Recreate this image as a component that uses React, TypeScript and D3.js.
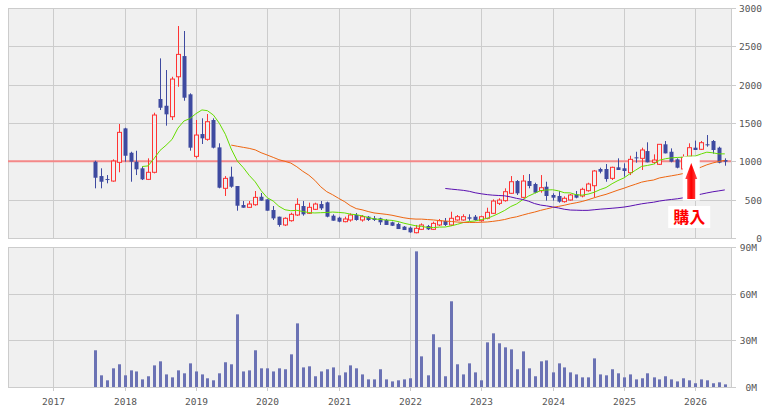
import React from "react";
import * as d3 from "d3";

const startMonth = "2017-08";
const opens = [995,808,769,743,987,1430,1112,995,909,765,857,1813,1725,1582,2103,2373,1874,1065,1356,1287,1539,1182,648,800,678,430,400,434,538,504,365,278,170,226,300,417,322,374,443,465,291,265,213,235,300,235,278,257,257,235,205,183,148,135,69,113,156,113,170,222,170,235,235,270,278,226,257,322,452,487,583,743,530,743,704,617,669,561,548,474,496,570,548,617,682,900,900,778,922,909,852,1052,1039,1134,987,961,1222,1125,1026,900,1061,1178,1157,1222,1265,1178,1017];
const highs = [1008,909,821,1026,1487,1438,1125,1138,930,1039,1634,2343,2191,2103,2765,2700,1887,1539,1561,1617,1561,1235,808,930,678,482,482,613,587,504,417,278,270,330,518,482,461,461,482,474,309,278,278,322,326,300,287,287,265,248,213,200,156,148,170,191,170,213,248,261,343,300,309,309,300,291,395,504,518,648,808,756,821,834,721,821,734,583,613,543,574,613,656,721,887,917,965,930,1039,974,1073,1125,1178,1248,1091,1222,1265,1169,1039,1091,1235,1270,1265,1343,1278,1191,1039];
const lows = [648,648,713,734,857,995,734,821,756,756,843,1669,1465,1539,1973,1790,1139,1039,1226,1269,1169,648,548,656,356,395,395,421,487,356,235,147,156,213,287,291,313,365,365,270,226,205,205,213,226,213,222,222,170,170,156,117,104,69,61,104,104,104,156,156,156,226,226,226,226,213,244,313,430,474,574,561,518,648,583,591,487,487,461,461,487,518,530,604,530,843,734,756,887,800,821,982,887,987,961,952,1104,987,909,880,1047,1148,1148,1191,1100,974,943];
const closes = [786,734,760,1004,1378,1073,995,896,765,857,1604,1699,1613,2073,2395,1830,1178,1343,1300,1517,1178,656,778,669,421,395,443,530,487,356,256,170,257,309,439,309,400,443,387,278,226,213,248,300,235,278,235,235,205,170,160,117,104,74,126,170,113,191,226,170,257,278,278,252,235,278,335,482,495,604,734,583,743,678,591,656,548,526,474,518,561,526,635,704,874,865,769,922,887,874,1026,1039,1148,987,1017,1222,1104,995,917,1052,1178,1148,1243,1213,1148,982,995];
const volumes = [23.6,7.5,4.3,12,14.6,7.5,10.7,10,4.9,6.9,13.9,16.5,8.1,6.2,10.7,8.8,15.2,10,8.1,5.6,4.3,8.8,15.9,14.6,46.7,10,10.7,23.6,12,12,10,12,11.4,21,40.9,12.6,13.3,6.9,10,11.4,12.6,7.5,9.4,13.9,12,8.1,4.9,4.9,11.4,4.9,3.6,4.3,4.9,5.6,87.2,19.7,7.5,33.9,25.5,6.9,55.1,14.6,8.1,15.2,9.4,4.3,28.7,34.5,28.1,25.5,24.2,11.4,22.9,12,6.9,16.5,17.1,9.4,15.2,12.6,9.4,8.1,6.2,6.2,18.4,8.1,7.5,11.4,8.8,6.2,8.1,4.9,5.6,8.8,6.2,4.9,6.9,4.9,3.6,5.6,4.3,2.4,4.9,4.3,2.4,3,1.7];
const maPeriods = [9, 24, 60];
const maColors = ["#66dd00", "#ee6611", "#5a10b0"];
const priceTicks = [0, 500, 1000, 1500, 2000, 2500, 3000];
const volTicks = [0, 30, 60, 90];
const volTickLabels = ["0M", "30M", "60M", "90M"];
const years = [2017, 2018, 2019, 2020, 2021, 2022, 2023, 2024, 2025, 2026];
const refPrice = 1000;
const buyLabel = "購入";
const buyMonthIndex = 100;

const W = 766, H = 406;
const L = 8, R = 731;
const mainTop = 8, mainBot = 238;
const volTop = 247, volBot = 387;

export default function App() {
  const [sy, sm] = startMonth.split("-").map(Number);
  const dates = opens.map((_, i) => new Date(sy, sm - 1 + i, 1));
  const x = d3.scaleTime().domain([new Date(2017, 0, 1), new Date(2026, 0, 1)]).range([53.3, 695.3]);
  const y = d3.scaleLinear().domain([0, 3000]).range([mainBot, mainTop]);
  const yv = d3.scaleLinear().domain([0, 90]).range([volBot, volTop]);

  const maSeries = maPeriods.map((p) =>
    closes.map((_, i) => (i >= p - 1 ? d3.mean(closes.slice(i - p + 1, i + 1)) as number : null))
  );
  const line = d3.line<number | null>()
    .defined((d) => d !== null)
    .x((_, i) => x(dates[i]))
    .y((d) => y(d as number));

  const grid = "#cccccc";
  const fontAxis = { fontFamily: "'DejaVu Sans Mono', monospace", fontSize: 9.5, fill: "#555" };
  const bx = x(dates[buyMonthIndex]) + 2;

  return (
    <svg width={W} height={H} style={{ position: "absolute", left: 0, top: 0 }}>
      <defs>
        <linearGradient id="arrowGrad" x1="0" x2="1" y1="0" y2="0">
          <stop offset="0" stopColor="#ff5050" />
          <stop offset="0.5" stopColor="#ff0000" />
          <stop offset="1" stopColor="#ff5050" />
        </linearGradient>
        <clipPath id="mainClip"><rect x={L} y={mainTop} width={R - L} height={mainBot - mainTop} /></clipPath>
      </defs>
      <rect x={0} y={0} width={W} height={H} fill="#fff" />
      <rect x={L} y={mainTop} width={R - L} height={mainBot - mainTop} fill="#f0f0f0" />
      <rect x={L} y={volTop} width={R - L} height={volBot - volTop} fill="#f0f0f0" />
      {years.map((yr) => {
        const xx = Math.round(x(new Date(yr, 0, 1))) + 0.5;
        return (
          <g key={yr}>
            <line x1={xx} x2={xx} y1={mainTop} y2={mainBot} stroke={grid} />
            <line x1={xx} x2={xx} y1={volTop} y2={volBot + 4} stroke={grid} />
            <text x={xx} y={405} textAnchor="middle" {...fontAxis}>{yr}</text>
          </g>
        );
      })}
      {priceTicks.map((t) => {
        const yy = Math.round(y(t)) + 0.5;
        return (
          <g key={t}>
            <line x1={L} x2={R + 5} y1={yy} y2={yy} stroke={grid} />
            <text x={762} y={yy + 3.5} textAnchor="end" {...fontAxis}>{t}</text>
          </g>
        );
      })}
      {volTicks.map((t, i) => {
        const yy = Math.round(yv(t)) + 0.5;
        return (
          <g key={t}>
            <line x1={L} x2={R + 5} y1={yy} y2={yy} stroke={grid} />
            <text x={757} y={yy + 3.5} textAnchor="end" {...fontAxis}>{volTickLabels[i]}</text>
          </g>
        );
      })}
      <rect x={L + 0.5} y={mainTop + 0.5} width={R - L} height={mainBot - mainTop} fill="none" stroke={grid} />
      <rect x={L + 0.5} y={volTop + 0.5} width={R - L} height={volBot - volTop} fill="none" stroke={grid} />
      <line x1={L} x2={R} y1={y(refPrice)} y2={y(refPrice)} stroke="#f48888" strokeWidth={2} />
      <g clipPath="url(#mainClip)">
        {dates.map((d, i) => {
          const cx = Math.round(x(d));
          const up = closes[i] >= opens[i];
          const col = up ? "#ff3333" : "#3e4aa0";
          const top = y(Math.max(opens[i], closes[i]));
          const bot = y(Math.min(opens[i], closes[i]));
          const h = Math.max(1, bot - top);
          return (
            <g key={i}>
              <line x1={cx + 0.5} x2={cx + 0.5} y1={y(highs[i])} y2={y(lows[i])} stroke={col} strokeWidth={1} />
              {up ? (
                <rect x={cx - 1.5} y={top} width={4} height={h} fill="#f0f0f0" stroke={col} strokeWidth={1} />
              ) : (
                <rect x={cx - 1.5} y={top} width={4} height={h} fill={col} />
              )}
            </g>
          );
        })}
        {maSeries.map((s, k) => (
          <path key={k} d={line(s) || ""} fill="none" stroke={maColors[k]} strokeWidth={1} />
        ))}
      </g>
      {dates.map((d, i) => (
        <rect key={i} x={Math.round(x(d)) - 1} y={yv(volumes[i])} width={3} height={volBot - yv(volumes[i])} fill="#6b72b4" />
      ))}
      <rect x={bx - 8.5} y={156.5} width={17} height={44} fill="#fff" />
      <path d={`M${bx},${163} L${bx + 6},${179} L${bx + 4},${179} L${bx + 4},${199} L${bx - 4},${199} L${bx - 4},${179} L${bx - 6},${179} Z`} fill="url(#arrowGrad)" />
      <rect x={bx - 23} y={206} width={42} height={22} fill="#fff" />
      <text x={bx - 2} y={223} textAnchor="middle" fontFamily="'Noto Sans CJK JP', sans-serif" fontWeight="bold" fontSize={16} fill="#ff0000">{buyLabel}</text>
    </svg>
  );
}
